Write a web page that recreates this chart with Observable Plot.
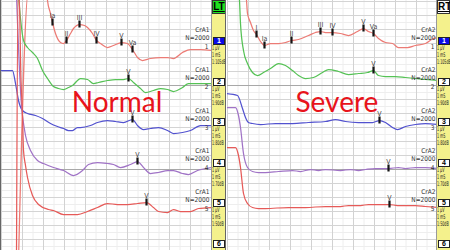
<!DOCTYPE html>
<html><head><meta charset="utf-8">
<script src="https://cdn.jsdelivr.net/npm/d3@7"></script>
<script src="https://cdn.jsdelivr.net/npm/@observablehq/plot@0.6"></script>
<style>
body{margin:0;background:#fff;}
#wrap{position:relative;width:450px;height:250px;overflow:hidden;background:#fff;font-family:"Liberation Sans",Arial,sans-serif;}
.panel{position:absolute;top:0;}
.side{position:absolute;top:0;height:250px;background:#f4f18c;border-left:1px solid #9a9a9a;box-sizing:border-box;overflow:hidden;}
.hdr{position:absolute;left:0;top:0;width:100%;height:14px;box-sizing:border-box;border:1px solid #333;font:bold 10px "Liberation Sans",Arial;text-align:center;line-height:12px;text-decoration:underline;color:#000;}
.box{position:absolute;left:1px;width:12px;height:8px;box-sizing:border-box;border:1px solid #222;background:#fff;font:bold 7px "Liberation Sans",Arial;text-align:center;line-height:6px;color:#000;}
.info{position:absolute;left:0;font:6.5px "Liberation Sans Narrow","DejaVu Sans Condensed","Liberation Sans";line-height:7px;color:#222;white-space:nowrap;transform:scaleX(0.56);transform-origin:0 0;}
.edge{position:absolute;top:0;width:1px;height:250px;background:#666;}
</style></head><body><div id="wrap"></div>
<script>
// ---- data ----
const panelTitles = ["Normal", "Severe"];
const electrodes = ["CrA1", "CrA2"];
const sideHeaders = ["LT", "RT"];
const sweepText = "N=2000";
const channelNumbers = [1, 2, 3, 4, 5, 6];
const gainText = "1 µV";
const timebaseText = "1 mS";
const intensities = ["1:105dB", "1:90dB", "1:80dB", "1:70dB", "1:50dB"];
const traceColors = ["#ec7b75", "#55c255", "#5252cf", "#a073c6", "#e65a58"];

// time (ms), amplitude (display units)
const normal1 = [[0.81,-1],[1.286,26],[2.143,26],[2.19,25],[2.333,23.7],[2.429,22.8],[2.571,21.7],[2.81,20.8],[2.952,20.7],[3.095,21.0],[3.286,21.7],[3.429,22.2],[3.714,22.6],[3.952,22.5],[4.095,22.3],[4.333,21.7],[4.524,21.0],[4.714,20.7],[5.048,20.3],[5.333,20.5],[5.714,20.8],[6.0,20.7],[6.238,20.1],[6.476,19.3],[6.714,19.0],[7.095,19.2],[7.571,19.3],[7.905,19.3],[8.19,19.2],[8.619,19.8],[9.0,20.1],[9.476,20.1],[10,20.0]];
const normal2 = [[0.81,25.5],[0.905,23.2],[1.048,21.0],[1.238,20.3],[1.476,19.8],[1.714,19.2],[1.952,18.0],[2.19,17.2],[2.476,16.4],[2.714,16.2],[2.952,16.1],[3.19,16.3],[3.381,16.5],[3.762,17.2],[4.095,17.1],[4.381,16.7],[4.619,16.8],[5.048,17.0],[5.429,17.1],[5.81,17.1],[6.048,17.2],[6.286,16.8],[6.619,16.2],[6.857,15.8],[7.238,16.0],[7.571,16.2],[7.905,16.1],[8.19,15.9],[8.619,16.3],[8.905,16.7],[9.333,16.7],[9.619,16.7],[10,16.7]];
const normal3 = [[-0.05,18.0],[0.524,18.0],[0.667,16.7],[0.81,15.0],[1.0,14.0],[1.238,13.7],[1.619,13.5],[1.952,13.2],[2.333,12.7],[2.667,12.4],[2.952,12.2],[3.19,12.0],[3.381,12.0],[3.619,12.3],[3.762,12.3],[4.238,12.5],[4.571,12.8],[5.048,13.0],[5.429,12.9],[5.81,12.8],[6.238,13.1],[6.476,12.5],[6.762,12.1],[7.095,12.2],[7.476,12.3],[7.905,12.0],[8.19,11.7],[8.619,11.8],[9.0,12.0],[9.476,12.5],[10,12.5]];
const normal4 = [[0.714,25.5],[0.952,14.5],[1.0,13.5],[1.143,11.5],[1.381,10.0],[1.714,9.0],[2.0,8.7],[2.476,8.3],[2.952,8.0],[3.429,7.5],[3.857,8.0],[4.143,8.6],[4.571,8.8],[5.048,8.7],[5.333,8.6],[5.667,8.3],[6.143,8.6],[6.476,8.9],[6.762,8.3],[7.095,7.7],[7.476,7.8],[7.905,8.0],[8.19,8.0],[8.619,7.7],[8.905,7.6],[9.333,8.0],[10,8.3]];
const normal5 = [[0.714,-1],[0.786,26],[0.833,26],[0.929,17.0],[1.0,13.5],[1.048,10.0],[1.143,8.5],[1.238,7.3],[1.476,5.5],[1.762,4.6],[2.238,4.1],[2.476,4.0],[2.952,3.6],[3.619,3.6],[4.095,3.9],[4.571,4.3],[5.048,4.7],[5.524,4.6],[6.0,4.6],[6.476,4.7],[6.905,4.8],[7.238,4.3],[7.476,3.9],[7.905,3.8],[8.19,4.1],[8.524,3.9],[9.0,3.9],[9.381,4.2],[10,4.3]];

const severe1 = [[0.857,26],[0.905,25],[0.952,23.7],[1.095,22.8],[1.238,22.0],[1.381,21.6],[1.571,20.9],[1.762,20.5],[2.048,20.7],[2.429,20.7],[2.762,20.8],[3.048,21.0],[3.381,21.1],[3.857,21.5],[4.19,21.8],[4.429,21.9],[4.667,21.8],[5.0,21.8],[5.381,21.7],[5.762,21.5],[6.19,21.9],[6.476,22.2],[6.714,21.9],[6.952,21.7],[7.19,21.2],[7.524,20.8],[7.857,20.7],[8.143,20.3],[8.571,20.3],[8.952,20.5],[9.429,20.7],[9.81,21.2],[10,21.3]];
const severe2 = [[0.524,26],[0.571,25],[0.619,22.7],[0.762,20.0],[0.952,18.7],[1.19,17.8],[1.429,17.5],[1.714,17.8],[2.048,18.2],[2.429,18.7],[2.762,18.5],[3.095,18.0],[3.381,17.5],[3.714,17.2],[4.095,17.3],[4.524,17.8],[4.81,18.1],[5.286,17.9],[5.762,17.6],[6.238,17.7],[6.667,17.8],[6.952,18.0],[7.19,17.5],[7.524,17.4],[8.0,17.4],[8.476,17.3],[8.952,17.2],[9.429,17.1],[10,17.0]];
const severe3 = [[-0.05,15.7],[0.476,15.5],[0.714,14.2],[0.857,13.3],[1.0,12.8],[1.19,12.7],[1.571,12.6],[2.286,12.7],[3.095,12.7],[3.857,12.8],[4.667,12.9],[5.143,13.1],[5.619,12.9],[6.238,12.8],[6.905,12.8],[7.238,13.0],[7.524,12.8],[7.857,12.3],[8.095,12.1],[8.476,12.4],[8.952,12.6],[9.429,12.7],[10,12.6]];
const severe4 = [[-0.05,14.3],[0.381,14.3],[0.524,13.5],[0.619,12.3],[0.762,9.7],[0.952,8.3],[1.19,7.9],[1.476,7.8],[1.81,7.8],[2.429,7.9],[3.095,8.0],[3.476,7.9],[3.952,8.1],[4.333,8.0],[4.667,8.1],[5.381,8.0],[5.857,8.1],[6.238,8.0],[6.571,8.1],[7.048,8.2],[7.667,8.2],[8.143,8.3],[8.476,8.2],[8.952,8.3],[9.429,8.3],[10,8.2]];
const severe5 = [[-0.05,10.3],[0.381,10.3],[0.524,9.5],[0.619,8.3],[0.762,5.7],[0.952,4.7],[1.19,4.3],[1.476,4.2],[1.81,4.2],[2.905,4.3],[3.714,4.3],[4.667,4.4],[5.381,4.4],[5.762,4.5],[6.333,4.5],[6.714,4.6],[7.19,4.6],[7.714,4.6],[8.095,4.5],[8.476,4.5],[8.952,4.5],[9.429,4.4],[10,4.3]];

// peak markers: [channel, label, time ms, amplitude]
const normalPeaks = [[1,"Ia",2.429,22.8],[1,"II",3.095,21.0],[1,"III",3.714,22.6],[1,"IV",4.524,21.0],[1,"V",5.714,20.8],[1,"Va",6.238,20.1],[2,"V",6.048,17.2],[3,"V",6.238,13.1],[4,"V",6.476,8.9],[5,"V",6.905,4.8]];
const severePeaks = [[1,"I",1.381,21.6],[1,"Ia",1.762,20.5],[1,"II",3.048,21.0],[1,"III",4.429,21.9],[1,"IV",5.0,21.8],[1,"V",6.476,22.2],[1,"Va",6.952,21.7],[2,"V",6.952,18.0],[3,"V",7.238,13.0],[4,"V",7.667,8.2],[5,"V",7.714,4.6]];

// grid
const gridMs = d3.range(0, 11, 1);
const minorMs = d3.range(0.5, 10, 1);
const gridLevels = d3.range(18).map(k => 24.9 - 1.4 * k);
const minorLevels = d3.range(18).map(k => 24.2 - 1.4 * k);
const bandLevels = [16.5, 8.1];

// ---- layout helpers ----
const rowOffset = 4.05;
const narrow = "'Liberation Sans Narrow','DejaVu Sans Condensed','Liberation Sans',sans-serif";

function panel(traces, peaks, electrode, title, titleX) {
  const chans = [1, 2, 3, 4, 5];
  const pk = peaks.map(([ch, label, t, a]) => ({ch, label, t, a}));
  return Plot.plot({
    width: 211, height: 250, marginLeft: 1, marginRight: 0, marginTop: 0, marginBottom: 0,
    x: {domain: [0, 10], axis: null},
    y: {domain: [0, 25], axis: null},
    style: {background: "transparent", overflow: "hidden"},
    marks: [
      Plot.ruleX(minorMs, {stroke: "#eeeeee"}),
      Plot.ruleY(minorLevels, {stroke: "#eeeeee"}),
      Plot.ruleX(gridMs, {stroke: "#d2d2d2"}),
      Plot.ruleY(gridLevels, {stroke: "#d4d4d4"}),
      Plot.ruleY(bandLevels, {stroke: "#a8a8a8"}),
      ...traces.map((pts, i) => Plot.line(pts, {x: d => d[0], y: d => d[1], stroke: traceColors[i], strokeWidth: 1.25, curve: "monotone-x", clip: true})),
      Plot.text([title], {x: () => titleX, y: () => 13.9, text: d => d, fill: "#e8131b", fontSize: 28, fontFamily: "Lato, 'Liberation Sans', sans-serif", lineAnchor: "bottom", textAnchor: "middle"}),
      Plot.ruleX(pk, {x: "t", y1: d => d.a - 0.35, y2: d => d.a + 0.35, stroke: "#151515", strokeWidth: 2.2}),
      Plot.text(pk, {x: "t", y: "a", text: "label", dy: -5, lineAnchor: "bottom", fontSize: 7, fill: "#444", fontFamily: narrow}),
      Plot.text(chans, {frameAnchor: "right", dx: -2, y: c => 21.9 - rowOffset * (c - 1), text: () => electrode, lineAnchor: "bottom", fontSize: 6.5, fill: "#333", fontFamily: narrow}),
      Plot.text(chans, {frameAnchor: "right", dx: -2, y: c => 21.1 - rowOffset * (c - 1), text: () => sweepText, lineAnchor: "bottom", fontSize: 6.5, fill: "#333", fontFamily: narrow}),
      Plot.text(chans, {frameAnchor: "right", dx: -3, y: c => 20.2 - rowOffset * (c - 1), text: c => String(c), lineAnchor: "bottom", fontSize: 6.5, fill: "#333", fontFamily: narrow})
    ]
  });
}

function sidebar(left, width, header, headerBg) {
  const s = document.createElement("div");
  s.className = "side";
  s.style.left = left + "px";
  s.style.width = width + "px";
  let html = `<div class="hdr" style="background:${headerBg}">${header}</div>`;
  channelNumbers.forEach((n, i) => {
    const top = 37 + 40.5 * i;
    const first = i === 0;
    html += `<div class="box" style="top:${top}px;${first ? "background:#0a0ae8;color:#fff;" : ""}">${n}</div>`;
    if (i < intensities.length) {
      [gainText, timebaseText, intensities[i]].forEach((t, j) => {
        html += `<div class="info" style="top:${top + 8 + 7 * j}px">${t}</div>`;
      });
    }
  });
  s.innerHTML = html;
  return s;
}

const wrap = document.getElementById("wrap");
const p1 = document.createElement("div"); p1.className = "panel"; p1.style.left = "0px";
p1.appendChild(panel([normal1, normal2, normal3, normal4, normal5], normalPeaks, electrodes[0], panelTitles[0], 5.5));
const p2 = document.createElement("div"); p2.className = "panel"; p2.style.left = "226px";
p2.appendChild(panel([severe1, severe2, severe3, severe4, severe5], severePeaks, electrodes[1], panelTitles[1], 5.21));
wrap.appendChild(p1);
wrap.appendChild(p2);
wrap.appendChild(sidebar(211, 15, sideHeaders[0], "#1fe01f"));
wrap.appendChild(sidebar(436, 14, sideHeaders[1], "#fafafa"));
[0, 225].forEach(x => { const e = document.createElement("div"); e.className = "edge"; e.style.left = x + "px"; wrap.appendChild(e); });
</script></body></html>
